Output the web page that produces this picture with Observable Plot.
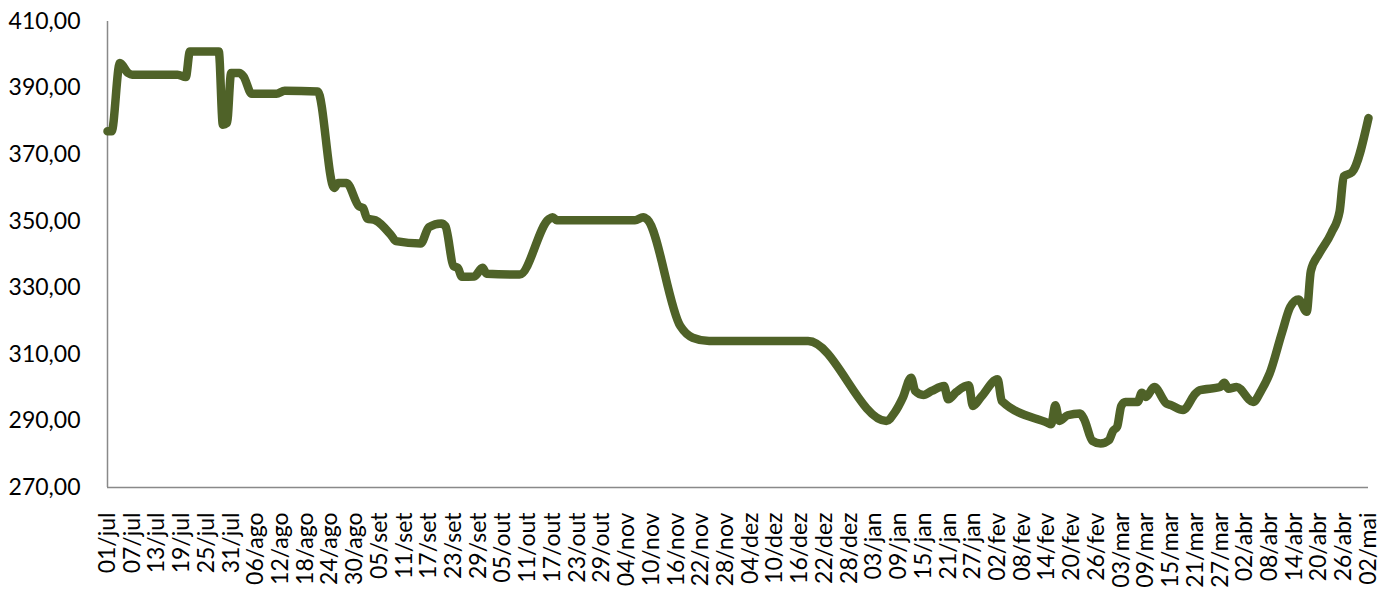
<!DOCTYPE html>
<html>
<head>
<meta charset="utf-8">
<script src="https://cdn.jsdelivr.net/npm/d3@7"></script>
<script src="https://cdn.jsdelivr.net/npm/@observablehq/plot@0.6"></script>
<style>
  body { margin: 0; background: #fff; }
</style>
</head>
<body>
<div id="chart"></div>
<script>
// Valores (datas e cotações)
const datas = [
  "2011-07-01", "2011-07-02", "2011-07-04", "2011-07-06", "2011-07-07", "2011-07-18", "2011-07-20",
  "2011-07-21", "2011-07-28", "2011-07-29", "2011-07-30", "2011-07-31", "2011-08-02", "2011-08-03",
  "2011-08-05", "2011-08-11", "2011-08-13", "2011-08-21", "2011-08-25", "2011-08-26", "2011-08-28",
  "2011-08-31", "2011-09-01", "2011-09-02", "2011-09-04", "2011-09-08", "2011-09-09", "2011-09-15",
  "2011-09-17", "2011-09-20", "2011-09-21", "2011-09-23", "2011-09-24", "2011-09-25", "2011-09-28",
  "2011-09-30", "2011-10-01", "2011-10-09", "2011-10-16", "2011-10-17", "2011-10-18", "2011-11-06",
  "2011-11-08", "2011-11-09", "2011-11-17", "2011-11-20", "2011-11-24", "2011-12-18", "2012-01-06",
  "2012-01-08", "2012-01-10", "2012-01-12", "2012-01-13", "2012-01-15", "2012-01-17", "2012-01-20",
  "2012-01-21", "2012-01-23", "2012-01-26", "2012-01-27", "2012-01-29", "2012-02-02", "2012-02-03",
  "2012-02-14", "2012-02-15", "2012-02-16", "2012-02-17", "2012-02-19", "2012-02-22", "2012-02-23",
  "2012-02-25", "2012-02-27", "2012-02-29", "2012-03-01", "2012-03-02", "2012-03-03", "2012-03-04",
  "2012-03-07", "2012-03-08", "2012-03-09", "2012-03-11", "2012-03-14", "2012-03-15", "2012-03-18",
  "2012-03-21", "2012-03-22", "2012-03-27", "2012-03-28", "2012-03-29", "2012-03-31", "2012-04-04",
  "2012-04-06", "2012-04-08", "2012-04-11", "2012-04-13", "2012-04-15", "2012-04-17", "2012-04-18",
  "2012-04-20", "2012-04-23", "2012-04-25", "2012-04-26", "2012-04-28", "2012-05-02"
]
const valores = [
  377, 377, 397.5, 394.5, 394, 394, 393.3,
  401, 401, 379, 379.5, 394.5, 394.5, 393.5,
  388.3, 388.3, 389.2, 389, 360, 361.5, 361.5,
  354.5, 354, 350.8, 350.3, 345.5, 344, 343.3,
  348.2, 349.3, 348.5, 336.5, 336, 333.3, 333.4,
  336, 334.2, 334, 350.5, 351.2, 350.3, 350.3,
  351.2, 350.5, 318.5, 315, 314, 314, 290,
  292.5, 297, 303, 299, 297.8, 299, 300.5,
  296.5, 298.7, 300.7, 294.5, 297.2, 302.5, 296,
  289.5, 289, 294.7, 290, 291.7, 292.2, 290.5,
  284, 283.2, 284.2, 287, 288.2, 294.5, 295.7,
  295.7, 298.5, 297.2, 300.2, 295.2, 294.8, 293.3,
  298.2, 299.2, 300.2, 301.5, 299.7, 300.2, 295.7,
  299.2, 304.2, 316.5, 324.2, 326.5, 322.8, 335,
  340.2, 346.5, 353, 363.5, 364.7, 381
]
const rotulosX = [
  "01/jul", "07/jul", "13/jul", "19/jul", "25/jul", "31/jul", "06/ago", "12/ago", "18/ago", "24/ago",
  "30/ago", "05/set", "11/set", "17/set", "23/set", "29/set", "05/out", "11/out", "17/out", "23/out",
  "29/out", "04/nov", "10/nov", "16/nov", "22/nov", "28/nov", "04/dez", "10/dez", "16/dez", "22/dez",
  "28/dez", "03/jan", "09/jan", "15/jan", "21/jan", "27/jan", "02/fev", "08/fev", "14/fev", "20/fev",
  "26/fev", "03/mar", "09/mar", "15/mar", "21/mar", "27/mar", "02/abr", "08/abr", "14/abr", "20/abr",
  "26/abr", "02/mai"
]
const ticksY = [270, 290, 310, 330, 350, 370, 390, 410]

const meses = ["jan", "fev", "mar", "abr", "mai", "jun", "jul", "ago", "set", "out", "nov", "dez"]
// jul-dez = 2011, jan-jun = 2012
const paraData = r => {
  const [dia, mes] = r.split("/")
  const m = meses.indexOf(mes)
  return new Date(Date.UTC(m >= 6 ? 2011 : 2012, m, +dia))
}
const ticksX = rotulosX.map(paraData)
const serie = datas.map((d, i) => ({ data: new Date(d), valor: valores[i] }))

let chart = Plot.plot({
  width: 1394,
  height: 589,
  marginLeft: 107,
  marginRight: 26,
  marginTop: 21,
  marginBottom: 102,
  style: {
    fontFamily: "Lato",
    fontSize: "23px",
    color: "#000",
    background: "#fff"
  },
  x: {
    type: "utc",
    domain: [ticksX[0], ticksX[ticksX.length - 1]],
    ticks: ticksX,
    tickFormat: d => d3.utcFormat("%d")(d) + "/" + meses[d.getUTCMonth()],
    tickRotate: -90,
    tickSize: 0,
    tickPadding: 25,
    label: null
  },
  y: {
    domain: [270, 410],
    ticks: ticksY,
    tickFormat: d => d.toFixed(2).replace(".", ","),
    tickSize: 0,
    tickPadding: 27,
    label: null
  },
  marks: [
    Plot.ruleX([ticksX[0]], { stroke: "#898989", strokeWidth: 1.5 }),
    Plot.ruleY([270], { stroke: "#898989", strokeWidth: 1.5 }),
    Plot.line(serie, {
      x: "data",
      y: "valor",
      stroke: "#4F6228",
      strokeWidth: 8.5,
      curve: "monotone-x",
      strokeLinecap: "round",
      strokeLinejoin: "round"
    })
  ]
})
d3.select('#chart').append(() => chart)
</script>
</body>
</html>
